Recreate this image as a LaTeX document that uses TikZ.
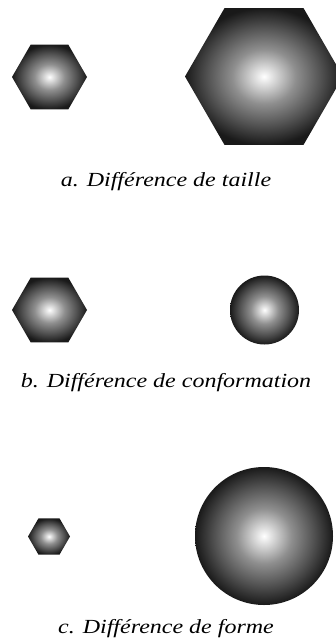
\documentclass[tikz,border=0pt]{standalone}
\usepackage{fontspec}
\setmainfont{Liberation Serif}
\newfontfamily\legendefont[FakeStretch=1.2]{Liberation Serif}
\usetikzlibrary{shapes.geometric}
\pgfdeclareradialshading{grainshade}{\pgfpoint{0bp}{0bp}}{%
  color(0bp)=(white); color(10bp)=(black!44); color(18bp)=(black!68);
  color(25bp)=(black!90); color(50bp)=(black!90)}
\tikzset{
  grain/.style={shading=grainshade,inner sep=0pt,outer sep=0pt},
  hexa/.style={grain,regular polygon,regular polygon sides=6},
  bille/.style={grain,circle},
  legende/.style={font=\legendefont\fontsize{20}{22}\selectfont\itshape,inner sep=0pt,anchor=base},
}
\begin{document}
\begin{tikzpicture}[x=1pt,y=-1pt]
  \useasboundingbox (0,0) rectangle (335,644);
  % a. taille
  \node[hexa,minimum size=75pt] (hexa1) at (49.5,77) {};
  \node[hexa,minimum size=158pt] (hexa2) at (264,76.5) {};
  \node[legende] (capA) at (166,186) {a. Différence de taille};
  % b. conformation
  \node[hexa,minimum size=75pt] (hexb) at (49.5,310) {};
  \node[bille,minimum size=69pt] (billeb) at (264.5,310) {};
  \node[legende] (capB) at (166,387) {b. Différence de conformation};
  % c. forme
  \node[hexa,minimum size=42pt] (hexc) at (49,536.5) {};
  \node[bille,minimum size=138pt] (billec) at (264,536) {};
  \node[legende] (capC) at (166,633) {c. Différence de forme};
\end{tikzpicture}
\end{document}
